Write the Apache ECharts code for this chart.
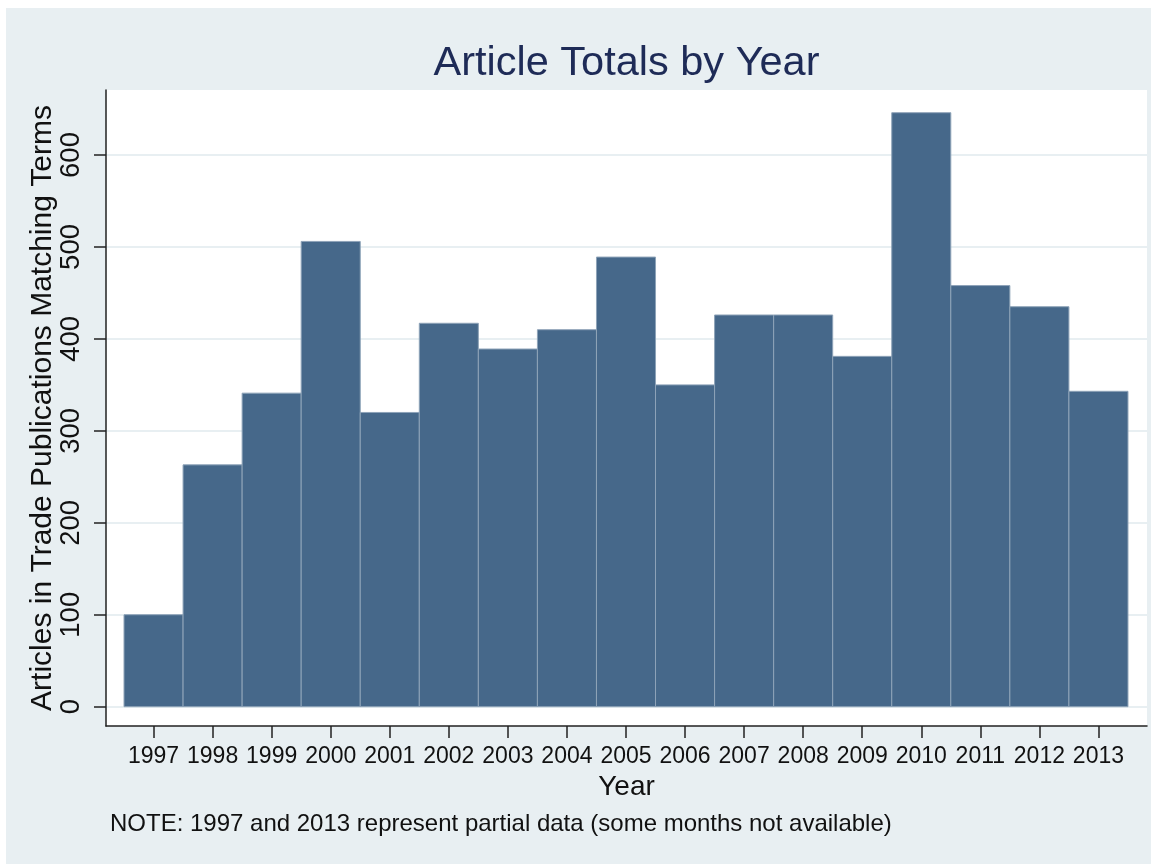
<!DOCTYPE html>
<html>
<head>
<meta charset="utf-8">
<title>Article Totals by Year</title>
<script src="https://cdn.jsdelivr.net/npm/echarts@6/dist/echarts.min.js"></script>
<style>
  html, body { margin: 0; padding: 0; background: #fff; }
  #frame { position: absolute; left: 6px; top: 8px; right: 0; bottom: 1px; background: #e8eff2; }
  #main { position: absolute; left: 0; top: 0; width: 1151px; height: 865px; }
</style>
</head>
<body>
<div id="frame"></div>
<div id="main"></div>
<script>
// article counts per year (1997 and 2013 are partial years)
var years = [1997, 1998, 1999, 2000, 2001, 2002, 2003, 2004, 2005, 2006, 2007, 2008, 2009, 2010, 2011, 2012, 2013]
var articleCounts = [100, 263, 341, 506, 320, 417, 389, 410, 489, 350, 426, 426, 381, 646, 458, 435, 343]
var yTicks = [0, 100, 200, 300, 400, 500, 600]

var chartTitle = 'Article Totals by Year'
var yAxisTitle = 'Articles in Trade Publications Matching Terms'
var xAxisTitle = 'Year'
var noteText = 'NOTE: 1997 and 2013 represent partial data (some months not available)'

var fontFamily = '"Liberation Sans", Arial, Helvetica, sans-serif'
var chart = echarts.init(document.getElementById('main'), null, { renderer: 'canvas' })

chart.setOption({
  backgroundColor: 'transparent',
  animation: false,
  grid: {
    left: 106,
    top: 90,
    width: 1041,
    height: 636,
    show: true,
    backgroundColor: '#fff',
    borderWidth: 0,
    containLabel: false
  },
  graphic: [{
    type: 'text',
    x: 626.5,
    y: 63.5,
    style: {
      text: chartTitle,
      font: '41.5px ' + fontFamily,
      fill: '#1e2b57',
      align: 'center',
      verticalAlign: 'middle'
    }
  }, {
    type: 'text',
    x: 110,
    y: 824.5,
    style: {
      text: noteText,
      font: '24px ' + fontFamily,
      fill: '#111',
      align: 'left',
      verticalAlign: 'middle'
    }
  }],
  xAxis: {
    type: 'value',
    min: 1996.195,
    max: 2013.822,
    name: xAxisTitle,
    nameLocation: 'middle',
    nameGap: 47,
    nameMoveOverlap: false,
    nameTextStyle: { fontFamily: fontFamily, fontSize: 28, color: '#111' },
    axisLine: { show: true, onZero: false, lineStyle: { color: '#222', width: 1.5 } },
    axisTick: { show: true, length: 12, customValues: years, lineStyle: { color: '#222', width: 1.5 } },
    axisLabel: {
      customValues: years,
      margin: 19,
      fontFamily: fontFamily,
      fontSize: 23,
      color: '#111',
      formatter: function (v) { return String(v) }
    },
    splitLine: { show: false }
  },
  yAxis: {
    type: 'value',
    min: -21,
    max: 670.7,
    name: yAxisTitle,
    nameLocation: 'middle',
    nameRotate: 90,
    nameGap: 48,
    nameMoveOverlap: false,
    nameTextStyle: { fontFamily: fontFamily, fontSize: 30, color: '#111' },
    axisLine: { show: true, onZero: false, lineStyle: { color: '#222', width: 1.5 } },
    axisTick: { show: true, length: 12, customValues: yTicks, lineStyle: { color: '#222', width: 1.5 } },
    axisLabel: {
      customValues: yTicks,
      rotate: 90,
      margin: 21,
      fontFamily: fontFamily,
      fontSize: 27.5,
      color: '#111'
    },
    splitLine: { show: true, lineStyle: { color: '#e8eff2', width: 2 } }
  },
  series: [{
    type: 'custom',
    name: 'Articles',
    encode: { x: 0, y: 1 },
    data: years.map(function (y, i) { return [y, articleCounts[i]] }),
    renderItem: function (params, api) {
      var topLeft = api.coord([api.value(0) - 0.5, api.value(1)])
      var bottomRight = api.coord([api.value(0) + 0.5, 0])
      return {
        type: 'rect',
        shape: {
          x: topLeft[0],
          y: topLeft[1],
          width: bottomRight[0] - topLeft[0],
          height: bottomRight[1] - topLeft[1]
        },
        style: {
          fill: '#46688a',
          stroke: '#8ea3b8',
          lineWidth: 1
        }
      }
    }
  }]
})
</script>
</body>
</html>
